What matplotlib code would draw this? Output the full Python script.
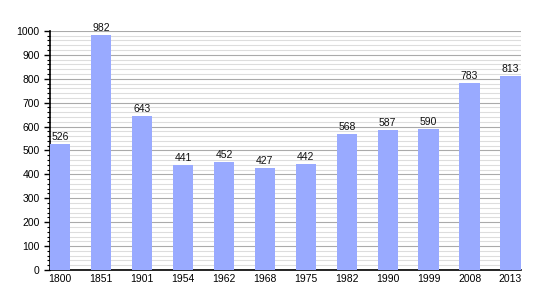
import matplotlib
matplotlib.use("Agg")
import matplotlib.pyplot as plt
from matplotlib.ticker import MultipleLocator

years = ["1800", "1851", "1901", "1954", "1962", "1968", "1975", "1982", "1990", "1999", "2008", "2013"]
population = [526, 982, 643, 441, 452, 427, 442, 568, 587, 590, 783, 813]

plt.rcParams['font.family'] = ['Liberation Sans', 'DejaVu Sans']
fig = plt.figure(figsize=(5.5, 3), dpi=100)
ax = fig.add_axes([0.0909, 0.1, 0.856, 0.797])

x = list(range(len(years)))
ax.bar(x, population, width=0.5, color="#99aaff", zorder=3)
for xi, v in zip(x, population):
    ax.text(xi, v + 8, str(v), ha="center", va="bottom", fontsize=7.5, color="#111111")

ax.set_xlim(-0.25, len(years) - 0.75)
ax.set_ylim(0, 1000)
ax.set_xticks(x)
ax.set_xticklabels(years, fontsize=7.5)
ax.yaxis.set_major_locator(MultipleLocator(100))
ax.yaxis.set_minor_locator(MultipleLocator(20))
ax.tick_params(axis="y", labelsize=7.5, which="major", length=4, width=1, direction="out")
ax.tick_params(axis="y", which="minor", length=2, width=0.8)
ax.tick_params(axis="x", length=0, pad=3)
ax.grid(axis="y", which="major", color="#aaaaaa", linewidth=0.8, zorder=0)
ax.grid(axis="y", which="minor", color="#dddddd", linewidth=0.8, zorder=0)
for s in ["top", "right"]:
    ax.spines[s].set_visible(False)
ax.spines["left"].set_linewidth(1.2)
ax.spines["bottom"].set_linewidth(1.2)

fig.savefig("out.png", dpi=100)
